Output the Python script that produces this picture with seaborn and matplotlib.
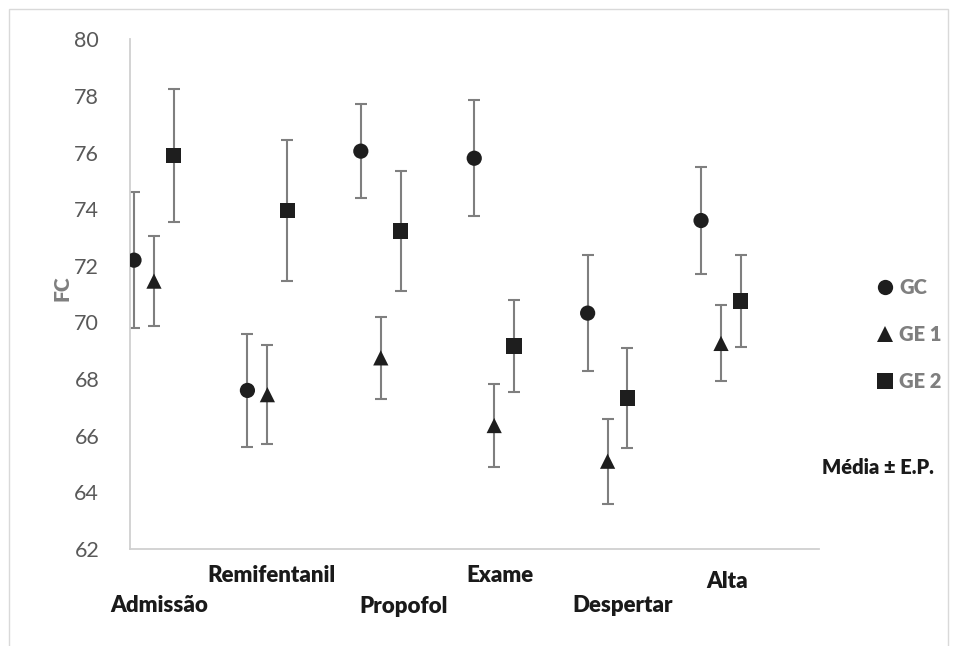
import numpy as np
import pandas as pd
import matplotlib
matplotlib.use("Agg")
import matplotlib.pyplot as plt
import matplotlib.transforms as mtransforms
from matplotlib.patches import Rectangle
from matplotlib.lines import Line2D
import seaborn as sns

# ---- data ----
categories = ["Admissão", "Remifentanil", "Propofol", "Exame", "Despertar", "Alta"]
groups = ["GC", "GE 1", "GE 2"]
gc_mean = [72.2, 67.6, 76.05, 75.8, 70.33, 73.6]
gc_err = [2.39, 2.0, 1.65, 2.05, 2.06, 1.88]
ge1_mean = [71.46, 67.45, 68.75, 66.36, 65.1, 69.26]
ge1_err = [1.58, 1.74, 1.45, 1.47, 1.5, 1.34]
ge2_mean = [75.89, 73.95, 73.23, 69.17, 67.33, 70.76]
ge2_err = [2.35, 2.48, 2.12, 1.61, 1.78, 1.64]
yticks = [62, 64, 66, 68, 70, 72, 74, 76, 78, 80]

# ---- layout (not data) ----
group_offset = {"GC": 0.0, "GE 1": 0.176, "GE 2": 0.35}
label_dx = [0.22, 1.214, 2.38, 3.23, 4.31, 5.23]
label_py = [605, 575, 606.5, 576, 605.5, 581.5]  # pixel rows from top

W, H = 958, 646
sns.set_theme(style="white")
plt.rcParams["font.family"] = ["Lato", "DejaVu Sans"]
BOLD = "heavy"

rows = []
for g, m, e in zip(groups, [gc_mean, ge1_mean, ge2_mean], [gc_err, ge1_err, ge2_err]):
    for i, (c, mv, ev) in enumerate(zip(categories, m, e)):
        rows.append({"categoria": c, "grupo": g, "media": mv, "ep": ev,
                     "xpos": i + group_offset[g]})
df = pd.DataFrame(rows)

fig = plt.figure(figsize=(W / 100, H / 100), dpi=100)
ax = fig.add_axes([129.7 / W, 1 - 549 / H, (819 - 129.7) / W, (549 - 39.3) / H])

ax.errorbar(df["xpos"], df["media"], yerr=df["ep"], fmt="none",
            ecolor="#7f7f7f", elinewidth=1.5, capsize=4.2, capthick=1.5, zorder=2)
mk = {"GC": "o", "GE 1": "^", "GE 2": "s"}
sns.scatterplot(data=df, x="xpos", y="media", style="grupo", markers=mk,
                style_order=groups, color="#1e1e1e", s=120, edgecolor="none",
                linewidth=0, ax=ax, zorder=3, legend=False)

ax.set_xlim(-0.038, 6.04)
ax.set_ylim(62, 80)
ax.set_yticks(yticks)
ax.set_yticklabels([str(t) for t in yticks], fontsize=15.5, color="#595959")
ax.set_xticks([])
ax.set_xlabel("")
ax.set_ylabel("")
ax.tick_params(axis="y", length=0, pad=22)
for s in ["top", "right"]:
    ax.spines[s].set_visible(False)
for s in ["left", "bottom"]:
    ax.spines[s].set_color("#d0d0d0")
    ax.spines[s].set_linewidth(1.3)

# category labels (staggered)
trans = mtransforms.blended_transform_factory(ax.transData, fig.transFigure)
for c, dx, py in zip(categories, label_dx, label_py):
    ax.text(dx, 1 - py / H, c, transform=trans, ha="center", va="center",
            fontsize=16, fontweight=BOLD, color="#1a1a1a")

# y label
fig.text(61.7 / W, 1 - 288.5 / H, "FC", rotation=90, ha="center", va="center",
         fontsize=15, fontweight=BOLD, color="#7f7f7f")

# legend
handles = [Line2D([], [], linestyle="none", marker=mk[g], color="#1e1e1e",
                  markersize=11, markeredgewidth=0) for g in groups]
leg = fig.legend(handles, groups, loc="upper left",
                 bbox_to_anchor=(877 / W, 1 - 278 / H), frameon=False,
                 handlelength=0.8, handletextpad=0.3, labelspacing=1.4,
                 borderpad=0, borderaxespad=0,
                 prop={"size": 14.5, "weight": BOLD}, labelcolor="#7f7f7f")

fig.text(878 / W, 1 - 467 / H, "Média ± E.P.", ha="center", va="center",
         fontsize=14.5, fontweight=BOLD, color="#1a1a1a")

# outer chart border
fig.patches.append(Rectangle((9 / W, -0.02), (948 - 9) / W, 1.02 - 9 / H,
                             transform=fig.transFigure, fill=False,
                             edgecolor="#d9d9d9", linewidth=1.0))

fig.savefig("out.png", dpi=100)
